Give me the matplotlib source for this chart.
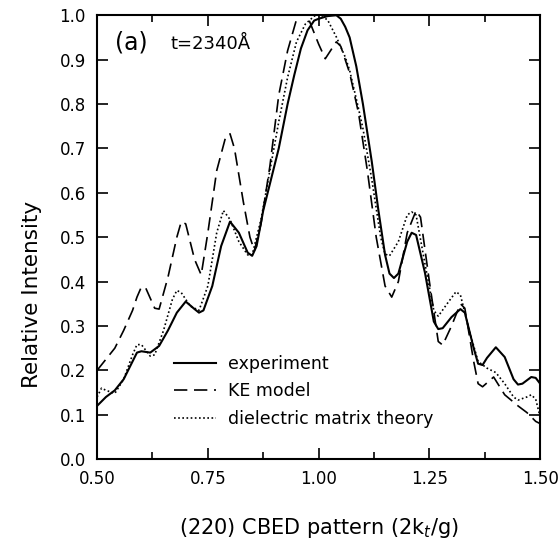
import matplotlib
matplotlib.use("Agg")
import matplotlib.pyplot as plt
from matplotlib.ticker import MultipleLocator

# experiment (solid)
x_exp = [0.50, 0.52, 0.54, 0.56, 0.58, 0.59, 0.60, 0.62, 0.64, 0.66, 0.68, 0.70,
         0.72, 0.73, 0.74, 0.76, 0.78, 0.80, 0.82, 0.84, 0.85, 0.86, 0.875, 0.89,
         0.91, 0.93, 0.945, 0.96, 0.975, 0.99, 1.00, 1.02, 1.04, 1.05, 1.06, 1.07,
         1.085, 1.10, 1.12, 1.135, 1.15, 1.16, 1.17, 1.18, 1.20, 1.21, 1.22, 1.24,
         1.26, 1.27, 1.28, 1.30, 1.32, 1.33, 1.35, 1.36, 1.37, 1.38, 1.40, 1.42,
         1.44, 1.45, 1.46, 1.48, 1.49, 1.50]
y_exp = [0.120, 0.140, 0.155, 0.180, 0.220, 0.240, 0.243, 0.240, 0.255, 0.290, 0.330, 0.355,
         0.338, 0.330, 0.335, 0.390, 0.480, 0.535, 0.510, 0.465, 0.458, 0.480, 0.560, 0.620,
         0.700, 0.800, 0.865, 0.925, 0.966, 0.988, 0.992, 0.998, 1.000, 0.992, 0.974, 0.950,
         0.885, 0.800, 0.670, 0.560, 0.460, 0.418, 0.408, 0.418, 0.490, 0.510, 0.505, 0.420,
         0.310, 0.293, 0.295, 0.320, 0.338, 0.330, 0.250, 0.215, 0.212, 0.228, 0.252, 0.230,
         0.180, 0.168, 0.170, 0.185, 0.183, 0.170]

# KE model (dashed)
x_ke = [0.50, 0.52, 0.54, 0.56, 0.58, 0.59, 0.60, 0.61, 0.63, 0.64, 0.66, 0.68, 0.69,
        0.70, 0.72, 0.735, 0.75, 0.77, 0.79, 0.80, 0.81, 0.83, 0.845, 0.855, 0.87,
        0.89, 0.91, 0.93, 0.95, 0.96, 0.97, 0.98, 1.00, 1.015, 1.03, 1.04, 1.05,
        1.07, 1.09, 1.11, 1.13, 1.15, 1.165, 1.18, 1.20, 1.22, 1.23, 1.25, 1.27,
        1.28, 1.30, 1.32, 1.33, 1.35, 1.36, 1.37, 1.395, 1.42, 1.45, 1.47, 1.49, 1.50]
y_ke = [0.200, 0.225, 0.250, 0.290, 0.335, 0.365, 0.388, 0.385, 0.340, 0.338, 0.410, 0.500, 0.535,
        0.530, 0.450, 0.415, 0.510, 0.650, 0.725, 0.733, 0.700, 0.580, 0.500, 0.470, 0.530,
        0.660, 0.820, 0.920, 0.990, 1.010, 1.010, 0.985, 0.935, 0.902, 0.925, 0.940, 0.930,
        0.870, 0.780, 0.650, 0.500, 0.390, 0.365, 0.400, 0.510, 0.560, 0.545, 0.400, 0.265,
        0.257, 0.300, 0.350, 0.340, 0.220, 0.170, 0.163, 0.185, 0.145, 0.120, 0.105, 0.085, 0.080]

# dielectric matrix theory (dotted)
x_dm = [0.50, 0.51, 0.52, 0.54, 0.56, 0.58, 0.59, 0.60, 0.62, 0.63, 0.65, 0.67, 0.68,
        0.69, 0.71, 0.73, 0.75, 0.77, 0.785, 0.80, 0.82, 0.84, 0.85, 0.87, 0.89, 0.91,
        0.93, 0.95, 0.97, 0.99, 1.00, 1.02, 1.04, 1.06, 1.07, 1.09, 1.10, 1.12, 1.14,
        1.15, 1.16, 1.18, 1.20, 1.21, 1.22, 1.24, 1.26, 1.27, 1.29, 1.31, 1.32, 1.34,
        1.36, 1.38, 1.40, 1.42, 1.44, 1.45, 1.47, 1.48, 1.49, 1.50]
y_dm = [0.140, 0.160, 0.155, 0.148, 0.180, 0.235, 0.258, 0.258, 0.232, 0.235, 0.290, 0.360, 0.380,
        0.375, 0.345, 0.335, 0.390, 0.510, 0.560, 0.540, 0.490, 0.460, 0.460, 0.540, 0.650, 0.760,
        0.860, 0.940, 0.980, 0.998, 1.000, 0.990, 0.951, 0.906, 0.876, 0.790, 0.745, 0.630, 0.500,
        0.462, 0.458, 0.490, 0.550, 0.557, 0.550, 0.440, 0.335, 0.322, 0.350, 0.377, 0.370, 0.290,
        0.220, 0.205, 0.195, 0.170, 0.140, 0.133, 0.140, 0.145, 0.135, 0.095]

plt.rcParams['font.family'] = ['DejaVu Sans']
fig = plt.figure(figsize=(5.58, 5.44), dpi=100)
ax = fig.add_axes([0.174, 0.156, 0.794, 0.816])

ax.plot(x_exp, y_exp, color='black', lw=1.5, label='experiment')
ax.plot(x_ke, y_ke, color='black', lw=1.2, dashes=(8, 4), label='KE model')
ax.plot(x_dm, y_dm, color='black', lw=1.2, dashes=(1, 1.5), label='dielectric matrix theory')

ax.set_xlim(0.5, 1.5)
ax.set_ylim(0.0, 1.0)
ax.xaxis.set_major_locator(MultipleLocator(0.25))
ax.xaxis.set_minor_locator(MultipleLocator(0.125))
ax.yaxis.set_major_locator(MultipleLocator(0.1))
ax.xaxis.set_major_formatter(plt.FormatStrFormatter('%.2f'))
ax.yaxis.set_major_formatter(plt.FormatStrFormatter('%.1f'))
ax.tick_params(which='both', direction='in', top=True, right=True, labelsize=12, width=1.2)
ax.tick_params(which='major', length=8, pad=8)
ax.tick_params(which='minor', length=5)
for s in ax.spines.values():
    s.set_linewidth(1.5)

ax.set_xlabel('(220) CBED pattern (2k$_t$/g)', fontsize=15, labelpad=20)
ax.set_ylabel('Relative Intensity', fontsize=15.5)
# label sits below the axis middle in the original
ax.yaxis.set_label_coords(-0.125, 0.37)

ax.text(0.04, 0.965, '(a)', transform=ax.transAxes, fontsize=17, va='top')
ax.text(0.165, 0.955, 't=2340Å', transform=ax.transAxes, fontsize=13, va='top')

ax.legend(loc='upper left', bbox_to_anchor=(0.155, 0.255), frameon=False, fontsize=12.5,
          handlelength=2.4, handletextpad=0.7, labelspacing=0.55, borderpad=0)

fig.savefig('out.png', dpi=100)
